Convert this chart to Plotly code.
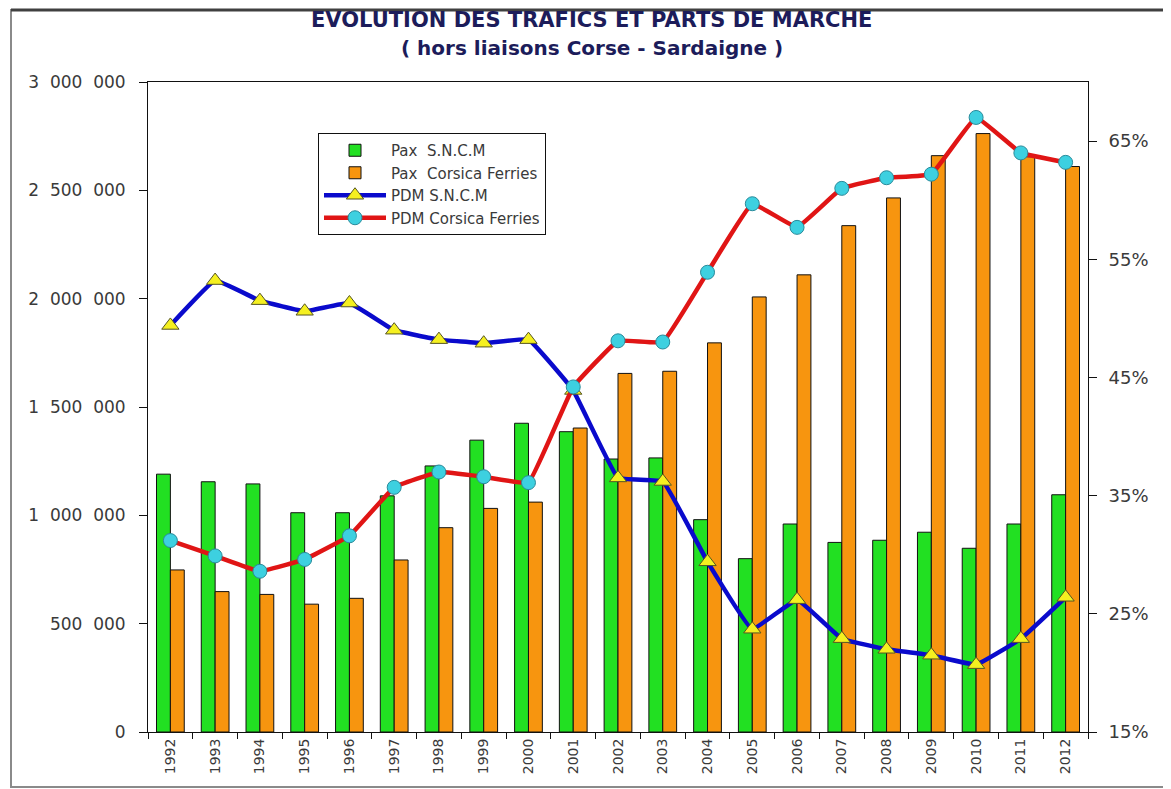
import plotly.graph_objects as go

years = ["1992", "1993", "1994", "1995", "1996", "1997", "1998", "1999", "2000", "2001",
         "2002", "2003", "2004", "2005", "2006", "2007", "2008", "2009", "2010", "2011", "2012"]

pax_sncm = [1190000, 1155000, 1145000, 1012000, 1012000, 1090000, 1228000, 1347000, 1425000, 1386000,
            1260000, 1265000, 980000, 800000, 960000, 875000, 885000, 922000, 848000, 960000, 1095000]
pax_cf = [748000, 648000, 635000, 590000, 617000, 794000, 943000, 1032000, 1061000, 1403000,
          1655000, 1665000, 1796000, 2008000, 2110000, 2337000, 2465000, 2660000, 2762000, 2655000, 2610000]
pdm_sncm = [49.4, 53.2, 51.5, 50.6, 51.3, 49.0, 48.2, 47.9, 48.2, 43.9,
            36.5, 36.2, 29.4, 23.7, 26.2, 22.9, 22.0, 21.5, 20.7, 22.9, 26.4]
pdm_cf = [31.2, 29.9, 28.6, 29.6, 31.6, 35.7, 37.0, 36.6, 36.1, 44.2,
          48.1, 48.0, 53.9, 59.7, 57.7, 61.0, 61.9, 62.2, 67.0, 64.0, 63.2]

left_ticks = [0, 500000, 1000000, 1500000, 2000000, 2500000, 3000000]
left_labels = ["0", "500\u2007000", "1\u2007000\u2007000", "1\u2007500\u2007000",
               "2\u2007000\u2007000", "2\u2007500\u2007000", "3\u2007000\u2007000"]
right_ticks = [15, 25, 35, 45, 55, 65]
right_labels = ["15%", "25%", "35%", "45%", "55%", "65%"]

title1 = "EVOLUTION DES TRAFICS ET PARTS DE MARCHE"
title2 = "( hors liaisons Corse - Sardaigne )"

# The page body adds an 8px offset; work in screen coordinates and convert.
OFF = 8
SW, SH = 1171, 789
W, H = SW - OFF, SH - OFF
PL, PR, PT, PB = 148, 1088, 82, 732          # plot area in screen coordinates
L, T = PL - OFF, PT - OFF
R, B = W - (PR - OFF), H - (PB - OFF)
pw, ph = PR - PL, PB - PT

def px(x):
    return (x - PL) / pw

def py(y):
    return (PB - y) / ph

FONT = "DejaVu Sans"
TXT = "#3a3a3a"

fig = go.Figure()
fig.add_trace(go.Bar(x=years, y=pax_sncm, name="Pax\u00a0\u00a0S.N.C.M",
                     marker=dict(color="#22E022", line=dict(color="#111111", width=1))))
fig.add_trace(go.Bar(x=years, y=pax_cf, name="Pax\u00a0\u00a0Corsica Ferries",
                     marker=dict(color="#F7950F", line=dict(color="#111111", width=1))))
fig.add_trace(go.Scatter(x=years, y=pdm_sncm, name="PDM S.N.C.M", yaxis="y2",
                         mode="lines+markers",
                         line=dict(color="#0A0ACC", width=4.5, shape="spline", smoothing=0.25),
                         marker=dict(symbol="triangle-up", size=15, color="#F5F020",
                                     line=dict(color="#555522", width=1))))
fig.add_trace(go.Scatter(x=years, y=pdm_cf, name="PDM Corsica Ferries", yaxis="y2",
                         mode="lines+markers",
                         line=dict(color="#E01515", width=4.5, shape="spline", smoothing=0.25),
                         marker=dict(symbol="circle", size=14, color="#3DD0E0",
                                     line=dict(color="#2A8A9A", width=1))))

fig.update_layout(
    width=W, height=H,
    margin=dict(l=L, r=R, t=T, b=B, pad=0),
    paper_bgcolor="white", plot_bgcolor="white",
    barmode="group", bargap=0.38, bargroupgap=0.0,
    font=dict(family=FONT, color=TXT),
    showlegend=True,
    legend=dict(x=px(318), y=py(133), xanchor="left", yanchor="top",
                bgcolor="white", bordercolor="#111111", borderwidth=1,
                font=dict(family=FONT, size=15, color=TXT), tracegroupgap=0,
                itemwidth=62, entrywidth=240, entrywidthmode="pixels"),
    xaxis=dict(type="category", range=[-0.5, 20.5], showline=True, linecolor="#111111",
               linewidth=1, mirror=True, ticks="outside", ticklen=6, tickcolor="#111111",
               tickson="boundaries", tickangle=-90, showgrid=False,
               tickfont=dict(family=FONT, size=14, color=TXT)),
    yaxis=dict(range=[0, 3000000], tickvals=left_ticks, ticktext=left_labels,
               showline=True, linecolor="#111111", linewidth=1, ticks="outside",
               ticklen=8, tickcolor="#111111", showgrid=False, zeroline=False,
               ticklabelstandoff=10,
               tickfont=dict(family=FONT, size=17, color=TXT)),
    yaxis2=dict(range=[15, 70], tickvals=right_ticks, ticktext=right_labels,
                overlaying="y", side="right", showline=True, linecolor="#111111",
                linewidth=1, ticks="outside", ticklen=8, tickcolor="#111111",
                showgrid=False, zeroline=False, ticklabelstandoff=8,
                tickfont=dict(family=FONT, size=18, color=TXT)),
    annotations=[
        dict(text="<b>" + title1 + "</b>", x=px(591), y=py(20), xref="paper", yref="paper",
             xanchor="center", yanchor="middle", showarrow=False,
             font=dict(family=FONT, size=21, color="#1C1C5A")),
        dict(text="<b>" + title2 + "</b>", x=px(592), y=py(48), xref="paper", yref="paper",
             xanchor="center", yanchor="middle", showarrow=False,
             font=dict(family=FONT, size=20, color="#1C1C5A")),
    ],
    shapes=[
        dict(type="rect", xref="paper", yref="paper", x0=px(11), x1=px(1165),
             y0=py(787), y1=py(10), line=dict(color="#8a8a8a", width=2), layer="below"),
        dict(type="line", xref="paper", yref="paper", x0=px(11), x1=px(1165),
             y0=py(10), y1=py(10), line=dict(color="#404040", width=3)),
    ],
)

fig.write_html("out.html")
